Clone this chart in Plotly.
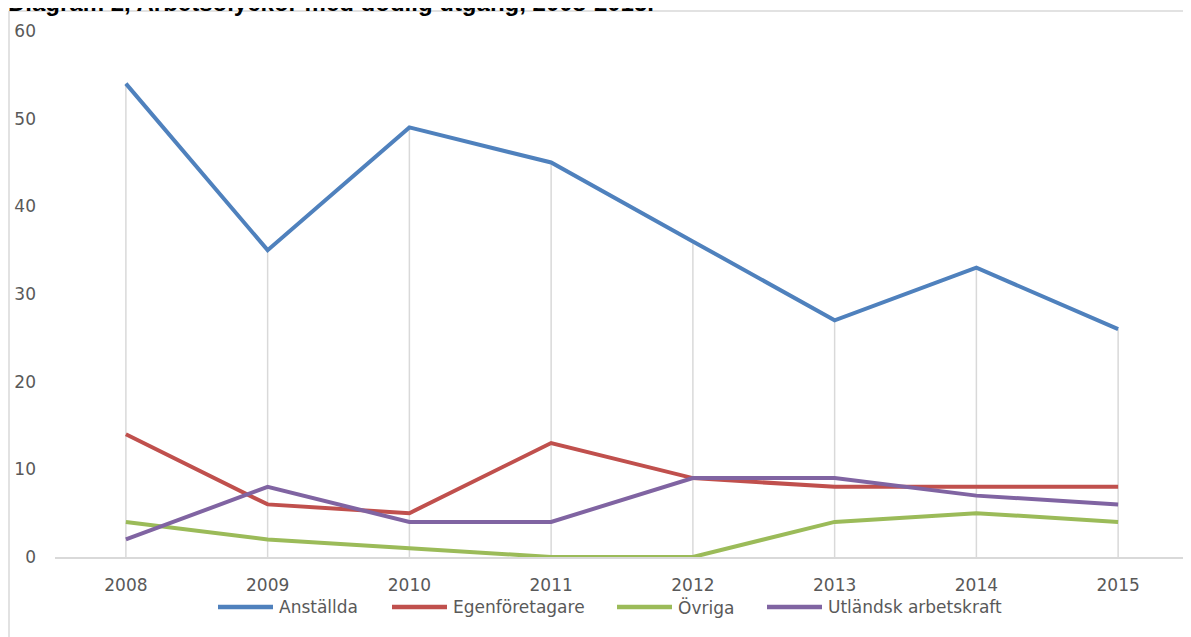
import plotly.graph_objects as go

years = ["2008", "2009", "2010", "2011", "2012", "2013", "2014", "2015"]
anstallda = [54, 35, 49, 45, 36, 27, 33, 26]
egenforetagare = [14, 6, 5, 13, 9, 8, 8, 8]
ovriga = [4, 2, 1, 0, 0, 4, 5, 4]
utlandsk = [2, 8, 4, 4, 9, 9, 7, 6]

series_names = ["Anställda", "Egenföretagare", "Övriga", "Utländsk arbetskraft"]
series_values = [anstallda, egenforetagare, ovriga, utlandsk]
colors = ["#4F81BD", "#C0504D", "#9BBB59", "#8064A2"]

title_text = "Diagram 2, Arbetsolyckor med dödlig utgång, 2008-2015."

# figure geometry (page is offset by the browser's 8px body margin)
W, H = 1183, 629
ML, MR, MT, MB = 47, 2, 23, 80
PW, PH = W - ML - MR, H - MT - MB


def px_to_paper_x(fx):
    return (fx - ML) / PW


def px_to_paper_y(fy):
    return (H - MB - fy) / PH


fig = go.Figure()

# drop lines from axis to the highest point in each category
dx, dy = [], []
for i, yr in enumerate(years):
    top = max(v[i] for v in series_values)
    dx += [yr, yr, None]
    dy += [0, top, None]
fig.add_trace(go.Scatter(x=dx, y=dy, mode="lines",
                         line=dict(color="#D9D9D9", width=1.5),
                         showlegend=False, hoverinfo="skip"))

for name, vals, c in zip(series_names, series_values, colors):
    fig.add_trace(go.Scatter(x=years, y=vals, name=name, mode="lines",
                             line=dict(color=c, width=4), showlegend=False))

# custom legend (line sample + label), positions in figure pixels
legend_starts = [210, 384, 609, 759]
legend_y = 599
sample_len = 55
shapes = []
annotations = []
for name, c, x0 in zip(series_names, colors, legend_starts):
    shapes.append(dict(type="line", xref="paper", yref="paper",
                       x0=px_to_paper_x(x0), x1=px_to_paper_x(x0 + sample_len),
                       y0=px_to_paper_y(legend_y), y1=px_to_paper_y(legend_y),
                       line=dict(color=c, width=4.5)))
    annotations.append(dict(text=name, xref="paper", yref="paper",
                            x=px_to_paper_x(x0 + sample_len + 4), y=px_to_paper_y(legend_y),
                            xanchor="left", yanchor="middle", showarrow=False,
                            font=dict(family="DejaVu Sans", size=17, color="#595959")))

# chart frame (left and top edges)
fx, fy = 1, 3
shapes.append(dict(type="line", xref="paper", yref="paper",
                   x0=px_to_paper_x(fx), x1=px_to_paper_x(fx), y0=px_to_paper_y(fy), y1=px_to_paper_y(H + 20),
                   line=dict(color="#D9D9D9", width=1.5)))
shapes.append(dict(type="line", xref="paper", yref="paper",
                   x0=px_to_paper_x(fx), x1=px_to_paper_x(W + 20), y0=px_to_paper_y(fy), y1=px_to_paper_y(fy),
                   line=dict(color="#D9D9D9", width=1.5)))

fig.update_layout(
    width=W, height=H,
    margin=dict(l=ML, r=MR, t=MT, b=MB),
    paper_bgcolor="white", plot_bgcolor="white",
    font=dict(family="DejaVu Sans", size=17, color="#595959"),
    title=dict(text="<b>" + title_text + "</b>", x=0, xref="container", xanchor="left",
               y=1 - 3 / H, yref="container", yanchor="bottom", pad=dict(l=0, t=0, b=0),
               font=dict(family="Liberation Sans", size=24, color="black")),
    showlegend=False,
    xaxis=dict(type="category", range=[-0.5, 7.5], showgrid=False, showline=True,
               linecolor="#D9D9D9", linewidth=1.5, ticks="", zeroline=False,
               ticklabelstandoff=12),
    yaxis=dict(range=[0, 60], dtick=10, showgrid=False, showline=False, zeroline=False,
               ticks="", ticklabelstandoff=18),
    shapes=shapes,
    annotations=annotations,
)

fig.write_html("out.html")
